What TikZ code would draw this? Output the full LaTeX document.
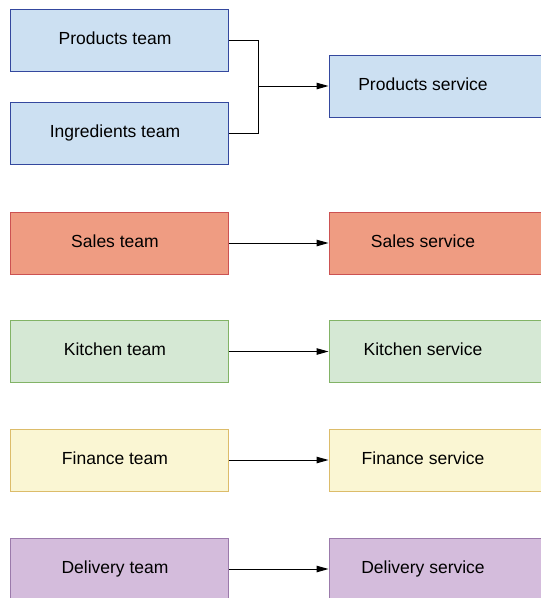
\documentclass[tikz,border=0pt]{standalone}
\usepackage{fontspec}
\setmainfont{Liberation Sans}
\usetikzlibrary{arrows.meta}
\definecolor{bluefill}{HTML}{CCE0F2}
\definecolor{blueline}{HTML}{34489E}
\definecolor{redfill}{HTML}{EF9C82}
\definecolor{redline}{HTML}{CC5252}
\definecolor{greenfill}{HTML}{D5E8D4}
\definecolor{greenline}{HTML}{82B366}
\definecolor{yellowfill}{HTML}{FAF6D3}
\definecolor{yellowline}{HTML}{DCBC6A}
\definecolor{purplefill}{HTML}{D4BCDC}
\definecolor{purpleline}{HTML}{9B7AAB}
\begin{document}
\begin{tikzpicture}[x=1pt, y=-1pt,
  box/.style={draw, line width=1pt, minimum width=218pt, minimum height=62pt,
    inner sep=0pt, text height=13pt, text depth=5pt,
    font=\fontsize{17.5}{21}\selectfont},
  team/.style={box, execute at end node=\hspace*{8pt}},
  svc/.style={box, execute at end node=\hspace*{30pt}},
  link/.style={line width=1pt, -{Triangle[length=12pt,width=6.5pt]}}]
\useasboundingbox (0,0) rectangle (541,598);
\node[team, fill=bluefill, draw=blueline] (prodteam) at (119,40) {Products team};
\node[team, fill=bluefill, draw=blueline] (ingrteam) at (119,133) {Ingredients team};
\node[svc, fill=bluefill, draw=blueline] (prodsvc) at (438,86) {Products service};
\coordinate (join) at (258,86);
\draw[line width=1pt] (prodteam.east) -| (join);
\draw[line width=1pt] (ingrteam.east) -| (join);
\draw[link] (join) -- (prodsvc.west);

\node[team, fill=redfill, draw=redline] (salesteam) at (119,243) {Sales team};
\node[svc, fill=redfill, draw=redline] (salessvc) at (438,243) {Sales service};
\draw[link] (salesteam) -- (salessvc);

\node[team, fill=greenfill, draw=greenline] (kitchteam) at (119,351.5) {Kitchen team};
\node[svc, fill=greenfill, draw=greenline] (kitchsvc) at (438,351.5) {Kitchen service};
\draw[link] (kitchteam) -- (kitchsvc);

\node[team, fill=yellowfill, draw=yellowline] (finteam) at (119,460) {Finance team};
\node[svc, fill=yellowfill, draw=yellowline] (finsvc) at (438,460) {Finance service};
\draw[link] (finteam) -- (finsvc);

\node[team, fill=purplefill, draw=purpleline] (delteam) at (119,569) {Delivery team};
\node[svc, fill=purplefill, draw=purpleline] (delsvc) at (438,569) {Delivery service};
\draw[link] (delteam) -- (delsvc);

\end{tikzpicture}
\end{document}
